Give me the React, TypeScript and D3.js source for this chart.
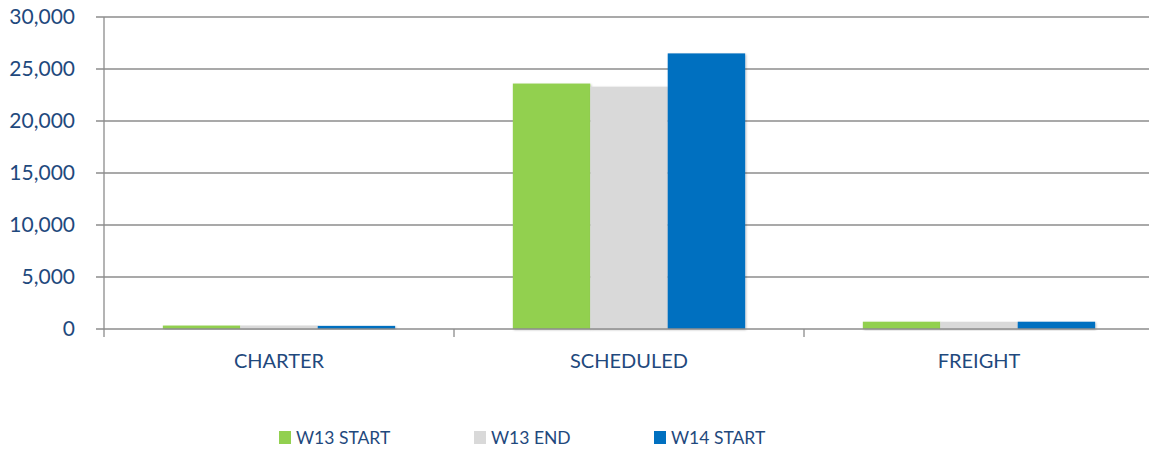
import React, { useEffect, useRef } from 'react';
import * as d3 from 'd3';

const categories = ['CHARTER', 'SCHEDULED', 'FREIGHT'];
const seriesNames = ['W13 START', 'W13 END', 'W14 START'];
const seriesColors = ['#92D050', '#D9D9D9', '#0070C0'];
const w13Start = [330, 23600, 700];
const w13End = [330, 23300, 690];
const w14Start = [300, 26500, 700];
const yTicks = [0, 5000, 10000, 15000, 20000, 25000, 30000];

const App = () => {
  const ref = useRef<SVGSVGElement | null>(null);

  useEffect(() => {
    const svg = d3.select(ref.current);
    svg.selectAll('*').remove();

    const width = 1149;
    const height = 451;
    const left = 104;
    const top = 17;
    const bottom = 329;
    const textColor = '#1F497D';
    const font = 'Lato, "Open Sans", sans-serif';

    const values = [w13Start, w13End, w14Start];

    const x = d3.scaleBand().domain(categories).range([left, left + 1050]).paddingInner(0).paddingOuter(0);
    const xInner = d3.scaleBand().domain(seriesNames).range([0, x.bandwidth()]).paddingOuter(0.76).paddingInner(0);
    const y = d3.scaleLinear().domain([0, 30000]).range([bottom, top]);

    // soft shadow like the office chart
    const defs = svg.append('defs');
    const filt = defs.append('filter').attr('id', 'shadow').attr('x', '-10%').attr('y', '-10%').attr('width', '130%').attr('height', '130%');
    filt.append('feDropShadow').attr('dx', 1).attr('dy', 1).attr('stdDeviation', 1.2).attr('flood-color', '#000').attr('flood-opacity', 0.25);

    // gridlines
    svg.append('g')
      .selectAll('line')
      .data(yTicks.filter(d => d > 0))
      .enter().append('line')
      .attr('x1', left - 8)
      .attr('x2', width)
      .attr('y1', d => y(d))
      .attr('y2', d => y(d))
      .attr('stroke', '#8C8C8C')
      .attr('stroke-width', 1.3);

    // y labels
    svg.append('g')
      .selectAll('text')
      .data(yTicks)
      .enter().append('text')
      .attr('x', 75)
      .attr('y', d => y(d))
      .attr('dy', '0.35em')
      .attr('text-anchor', 'end')
      .style('font-family', font)
      .style('font-size', '21px')
      .style('fill', textColor)
      .text(d => d3.format(',')(d));

    // bars
    const groups = svg.append('g')
      .selectAll('g')
      .data(categories)
      .enter().append('g')
      .attr('transform', d => `translate(${x(d)},0)`);

    groups.selectAll('rect')
      .data((d, i) => seriesNames.map((s, j) => ({ s, v: values[j][i], c: seriesColors[j] })))
      .enter().append('rect')
      .attr('x', d => xInner(d.s) as number)
      .attr('width', xInner.bandwidth())
      .attr('y', d => y(d.v))
      .attr('height', d => bottom - y(d.v))
      .attr('fill', d => d.c)
      .attr('filter', 'url(#shadow)');

    // x axis line + ticks
    svg.append('line')
      .attr('x1', left - 8).attr('x2', width)
      .attr('y1', bottom).attr('y2', bottom)
      .attr('stroke', '#8C8C8C').attr('stroke-width', 1.3);
    svg.append('line')
      .attr('x1', left).attr('x2', left)
      .attr('y1', top).attr('y2', bottom + 8)
      .attr('stroke', '#8C8C8C').attr('stroke-width', 1.3);
    svg.append('g')
      .selectAll('line')
      .data(categories.slice(1))
      .enter().append('line')
      .attr('x1', d => x(d) as number)
      .attr('x2', d => x(d) as number)
      .attr('y1', bottom).attr('y2', bottom + 8)
      .attr('stroke', '#8C8C8C').attr('stroke-width', 1.3);

    // category labels
    svg.append('g')
      .selectAll('text')
      .data(categories)
      .enter().append('text')
      .attr('x', d => (x(d) as number) + x.bandwidth() / 2)
      .attr('y', 368)
      .attr('text-anchor', 'middle')
      .style('font-family', font)
      .style('font-size', '20px')
      .style('fill', textColor)
      .text(d => d);

    // legend
    const legendX = [279, 474, 654];
    const legend = svg.append('g')
      .selectAll('g')
      .data(seriesNames)
      .enter().append('g')
      .attr('transform', (d, i) => `translate(${legendX[i]},431)`);
    legend.append('rect')
      .attr('width', 12).attr('height', 13)
      .attr('fill', (d, i) => seriesColors[i]);
    legend.append('text')
      .attr('x', 17)
      .attr('y', 13)
      .style('font-family', font)
      .style('font-size', '17.5px')
      .style('fill', textColor)
      .text(d => d);

    svg.attr('width', width).attr('height', height);
  }, []);

  return (
    <svg ref={ref} width={1149} height={451} style={{ position: 'absolute', left: 0, top: 0, background: '#fff' }} />
  );
};

export default App;
